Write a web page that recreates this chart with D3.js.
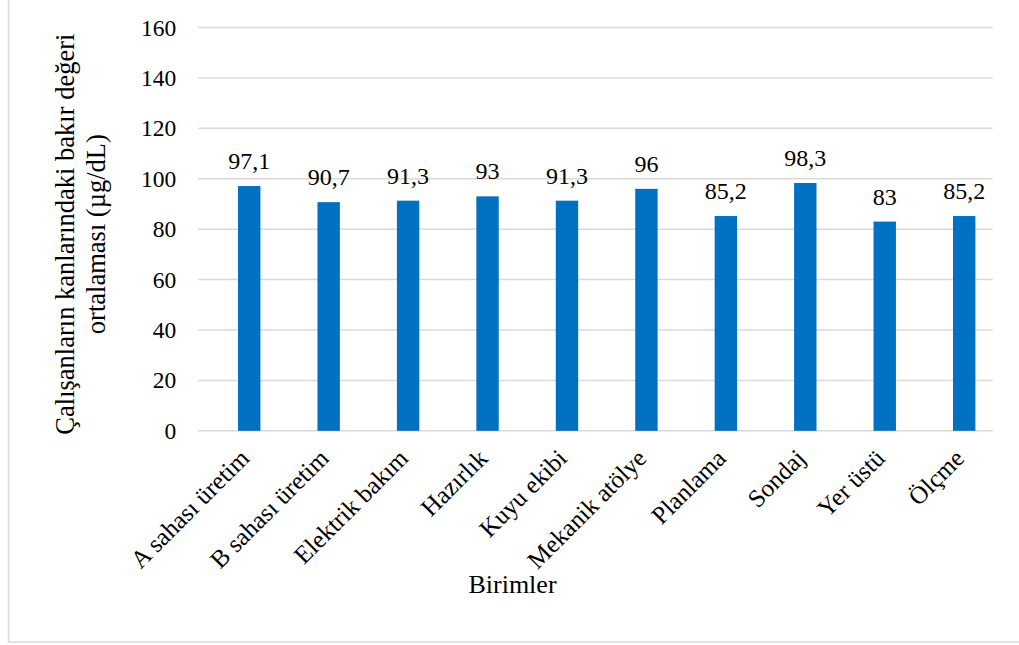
<!DOCTYPE html>
<html>
<head>
<meta charset="utf-8">
<script src="https://cdn.jsdelivr.net/npm/d3@7"></script>
<style>
  html, body { margin: 0; padding: 0; background: #fff; }
  svg { display: block; }
  svg text { font-family: "Liberation Serif", "Times New Roman", serif; fill: #000; }
</style>
</head>
<body>
<script>
const categories = ["A sahası üretim", "B sahası üretim", "Elektrik bakım", "Hazırlık", "Kuyu ekibi",
                    "Mekanik atölye", "Planlama", "Sondaj", "Yer üstü", "Ölçme"];
const values = [97.1, 90.7, 91.3, 93, 91.3, 96, 85.2, 98.3, 83, 85.2];
const valueLabels = ["97,1", "90,7", "91,3", "93", "91,3", "96", "85,2", "98,3", "83", "85,2"];
const yTicks = [0, 20, 40, 60, 80, 100, 120, 140, 160];
const xTitle = "Birimler";
const yTitleLines = ["Çalışanların kanlarındaki bakır değeri", "ortalaması (µg/dL)"];

const W = 1019, H = 645;
const plot = { left: 198.3, right: 992.7, top: 27.5, bottom: 430.8 };
const tickFont = 23.5, valueFont = 24, xLabelFont = 25, titleFont = 26.5;

const svg = d3.select("body").append("svg").attr("width", W).attr("height", H);

// outer chart border (only left & bottom edges fall inside the picture)
svg.append("rect")
  .attr("x", 8.5).attr("y", -10)
  .attr("width", W + 20).attr("height", 652)
  .attr("fill", "none").attr("stroke", "#d9d9d9").attr("stroke-width", 1.5);

const x = d3.scaleBand().domain(categories).range([plot.left, plot.right]).padding(0);
const y = d3.scaleLinear().domain([0, 160]).range([plot.bottom, plot.top]);
const barW = 22.4;

// gridlines
svg.append("g").selectAll("line").data(yTicks).join("line")
  .attr("x1", plot.left).attr("x2", plot.right)
  .attr("y1", d => y(d)).attr("y2", d => y(d))
  .attr("stroke", "#d9d9d9").attr("stroke-width", 1.5);

// y tick labels
const yAxis = d3.axisLeft(y).tickValues(yTicks).tickSize(0).tickPadding(22).tickFormat(d3.format("d"));
const yg = svg.append("g").attr("transform", `translate(${plot.left},0)`).call(yAxis);
yg.attr("font-family", null).attr("font-size", tickFont);
yg.select(".domain").remove();
yg.selectAll("text").attr("fill", "#000");

// bars (drawn as the second series slot of an Excel cluster)
svg.append("g").selectAll("rect").data(categories).join("rect")
  .attr("x", d => x(d) + x.bandwidth() / 2)
  .attr("width", barW)
  .attr("y", (d, i) => y(values[i]))
  .attr("height", (d, i) => y(0) - y(values[i]))
  .attr("fill", "#0070c0");

// value labels
svg.append("g").selectAll("text").data(categories).join("text")
  .attr("x", d => x(d) + x.bandwidth() / 2 + barW / 2)
  .attr("y", (d, i) => y(values[i]) - 17)
  .attr("text-anchor", "middle")
  .attr("font-size", valueFont)
  .text((d, i) => valueLabels[i]);

// x tick labels rotated -45
const xAxis = d3.axisBottom(x).tickSize(0).tickPadding(0);
const xg = svg.append("g").attr("transform", `translate(0,${plot.bottom})`).call(xAxis);
xg.attr("font-family", null).attr("font-size", xLabelFont);
xg.select(".domain").remove();
xg.selectAll(".tick").attr("transform", d => `translate(${x(d) + x.bandwidth() / 2 + barW / 2 + 1.5},0)`);
xg.selectAll("text")
  .attr("fill", "#000")
  .attr("text-anchor", "end")
  .attr("dy", null)
  .attr("x", 0).attr("y", 0)
  .attr("transform", "translate(0,29) rotate(-45)");

// x title
svg.append("text")
  .attr("x", 512.5).attr("y", 593)
  .attr("text-anchor", "middle")
  .attr("font-size", 26)
  .text(xTitle);

// y title (two lines)
const yCenter = (plot.top + plot.bottom) / 2 + 5;
const yt = svg.append("text")
  .attr("transform", `translate(74,${yCenter}) rotate(-90)`)
  .attr("text-anchor", "middle")
  .attr("font-size", titleFont);
yTitleLines.forEach((l, i) => {
  yt.append("tspan").attr("x", 0).attr("y", i * 31).text(l);
});
</script>
</body>
</html>
